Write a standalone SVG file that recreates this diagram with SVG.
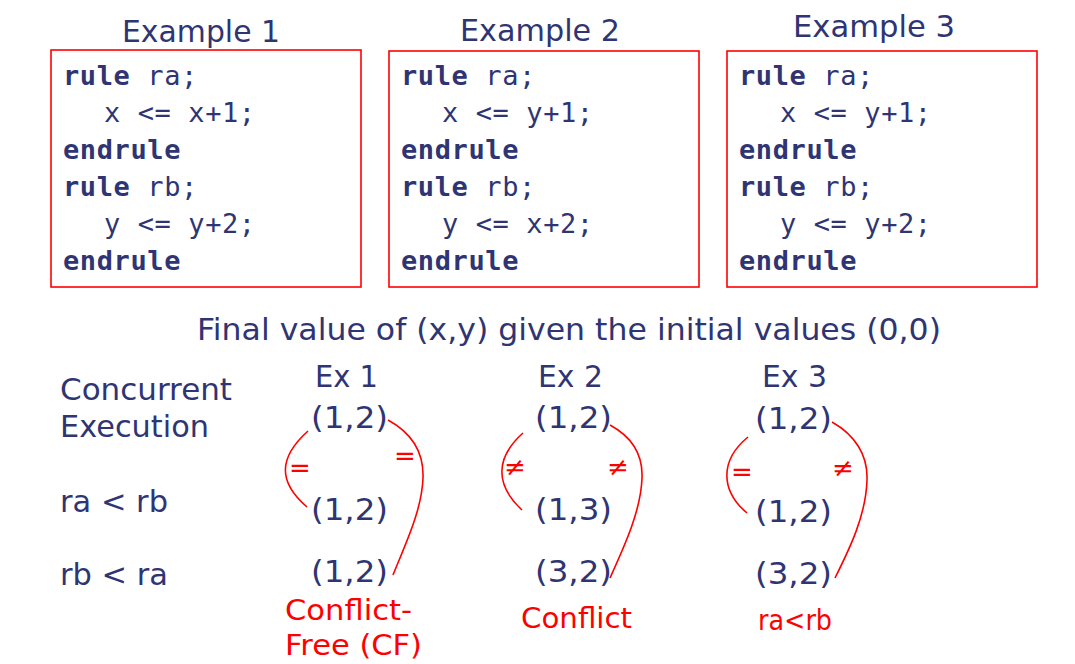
<svg xmlns="http://www.w3.org/2000/svg" width="1075" height="664" viewBox="0 0 1075 664">
<style>
.t{font-family:"DejaVu Sans","Liberation Sans",sans-serif;fill:#2F3573;font-size:30px}
.c{font-family:"DejaVu Sans Mono","Liberation Mono",monospace;fill:#2F3573;font-size:27px;letter-spacing:0.6px}
.b{font-weight:bold}
.box{fill:none;stroke:#FF0000;stroke-width:1.6}
.arc{fill:none;stroke:#FF0000;stroke-width:1.6}
.r{font-family:"DejaVu Sans","Liberation Sans",sans-serif;fill:#FF0000;font-size:28px}
.s{font-family:"DejaVu Sans","Liberation Sans",sans-serif;fill:#FF0000;font-size:26px;text-anchor:middle}
</style>
<rect width="1075" height="664" fill="#FFFFFF"/>
<g id="example1">
<text class="t" x="122" y="42" textLength="158" lengthAdjust="spacingAndGlyphs">Example 1</text>
<rect class="box" x="51" y="50" width="310" height="237"/>
<text class="c b" x="63" y="85">rule <tspan font-weight="normal">ra;</tspan></text>
<text class="c" x="104" y="122">x &lt;= x+1;</text>
<text class="c b" x="63" y="159">endrule</text>
<text class="c b" x="63" y="196">rule <tspan font-weight="normal">rb;</tspan></text>
<text class="c" x="104" y="233">y &lt;= y+2;</text>
<text class="c b" x="63" y="270">endrule</text>
</g>
<g id="example2">
<text class="t" x="460" y="41" textLength="160" lengthAdjust="spacingAndGlyphs">Example 2</text>
<rect class="box" x="389" y="51" width="310" height="236"/>
<text class="c b" x="401" y="85">rule <tspan font-weight="normal">ra;</tspan></text>
<text class="c" x="442" y="122">x &lt;= y+1;</text>
<text class="c b" x="401" y="159">endrule</text>
<text class="c b" x="401" y="196">rule <tspan font-weight="normal">rb;</tspan></text>
<text class="c" x="442" y="233">y &lt;= x+2;</text>
<text class="c b" x="401" y="270">endrule</text>
</g>
<g id="example3">
<text class="t" x="793" y="37" textLength="162" lengthAdjust="spacingAndGlyphs">Example 3</text>
<rect class="box" x="727" y="51" width="310" height="236"/>
<text class="c b" x="739" y="85">rule <tspan font-weight="normal">ra;</tspan></text>
<text class="c" x="780" y="122">x &lt;= y+1;</text>
<text class="c b" x="739" y="159">endrule</text>
<text class="c b" x="739" y="196">rule <tspan font-weight="normal">rb;</tspan></text>
<text class="c" x="780" y="233">y &lt;= y+2;</text>
<text class="c b" x="739" y="270">endrule</text>
</g>
<g id="header">
<text class="t" x="197" y="340" textLength="744" lengthAdjust="spacingAndGlyphs">Final value of (x,y) given the initial values (0,0)</text>
</g>
<g id="rowlabels">
<text class="t" x="60" y="400" textLength="172" lengthAdjust="spacingAndGlyphs">Concurrent</text>
<text class="t" x="60" y="437" textLength="149" lengthAdjust="spacingAndGlyphs">Execution</text>
<text class="t" x="60" y="512" textLength="108" lengthAdjust="spacingAndGlyphs">ra &lt; rb</text>
<text class="t" x="60" y="585" textLength="108" lengthAdjust="spacingAndGlyphs">rb &lt; ra</text>
</g>
<g id="ex1">
<text class="t" x="315" y="387" textLength="63" lengthAdjust="spacingAndGlyphs">Ex 1</text>
<text class="t" x="311" y="428" textLength="77" lengthAdjust="spacingAndGlyphs">(1,2)</text>
<text class="t" x="311" y="520" textLength="77" lengthAdjust="spacingAndGlyphs">(1,2)</text>
<text class="t" x="311" y="582" textLength="77" lengthAdjust="spacingAndGlyphs">(1,2)</text>
<text class="r" x="285" y="620" textLength="127" lengthAdjust="spacingAndGlyphs">Conflict-</text>
<text class="r" x="285" y="655" textLength="137" lengthAdjust="spacingAndGlyphs">Free (CF)</text>
</g>
<g id="ex2">
<text class="t" x="538" y="387" textLength="65" lengthAdjust="spacingAndGlyphs">Ex 2</text>
<text class="t" x="535" y="428" textLength="77" lengthAdjust="spacingAndGlyphs">(1,2)</text>
<text class="t" x="535" y="520" textLength="77" lengthAdjust="spacingAndGlyphs">(1,3)</text>
<text class="t" x="535" y="582" textLength="77" lengthAdjust="spacingAndGlyphs">(3,2)</text>
<text class="r" x="521" y="628" textLength="111" lengthAdjust="spacingAndGlyphs">Conflict</text>
</g>
<g id="ex3">
<text class="t" x="762" y="387" textLength="65" lengthAdjust="spacingAndGlyphs">Ex 3</text>
<text class="t" x="755" y="429" textLength="77" lengthAdjust="spacingAndGlyphs">(1,2)</text>
<text class="t" x="755" y="522" textLength="77" lengthAdjust="spacingAndGlyphs">(1,2)</text>
<text class="t" x="755" y="584" textLength="77" lengthAdjust="spacingAndGlyphs">(3,2)</text>
<text class="r" x="758" y="630" textLength="74" lengthAdjust="spacingAndGlyphs">ra&lt;rb</text>
</g>
<g id="connectors">
<path class="arc" d="M308,431 C278,458 278,482 307,507"/>
<path class="arc" d="M388,420 C410,432 424,450 423,478 C422,510 405,545 393,575"/>
<path class="arc" d="M523,433 C495,458 495,485 522,510"/>
<path class="arc" d="M610,425 C632,437 643,455 642,478 C641,510 625,545 610,578"/>
<path class="arc" d="M748,437 C720,460 720,490 747,513"/>
<path class="arc" d="M832,422 C855,435 868,455 867,480 C866,515 850,548 835,578"/>
<text class="s" x="300" y="477">=</text>
<text class="s" x="405" y="465">=</text>
<text class="s" x="515" y="476">≠</text>
<text class="s" x="618" y="476">≠</text>
<text class="s" x="742" y="481">=</text>
<text class="s" x="843" y="477">≠</text>
</g>
</svg>
